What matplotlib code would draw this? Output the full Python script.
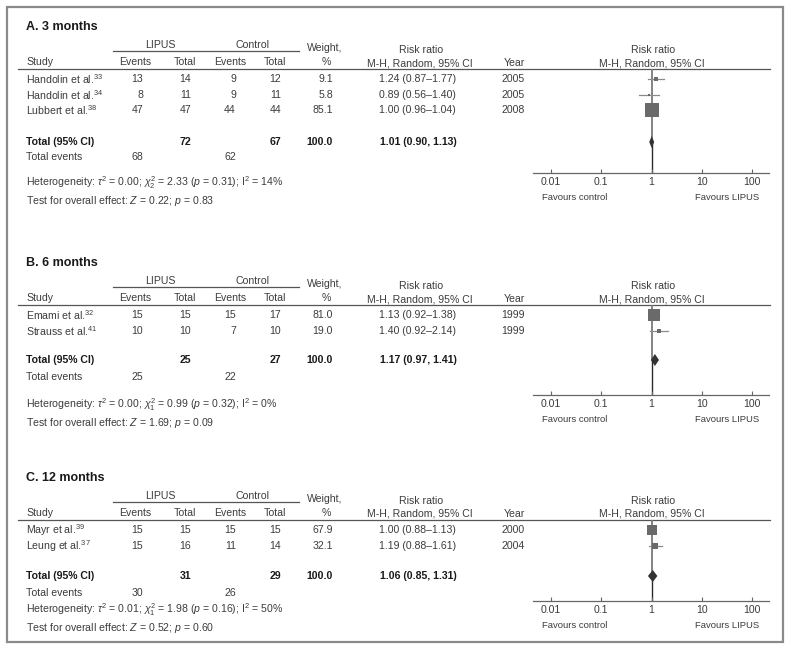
import matplotlib
matplotlib.use("Agg")
import matplotlib.pyplot as plt
from matplotlib.patches import Rectangle

plt.rcParams['font.family'] = ['Liberation Sans', 'DejaVu Sans']
plt.rcParams['mathtext.fontset'] = 'custom'
plt.rcParams['mathtext.rm'] = 'Liberation Sans'
plt.rcParams['mathtext.it'] = 'Liberation Sans:italic'
plt.rcParams['mathtext.bf'] = 'Liberation Sans:bold'

# ---- data ----
a_study = ["Handolin et al.$^{33}$", "Handolin et al.$^{34}$", "Lubbert et al.$^{38}$"]
a_lipus_ev = [13, 8, 47]
a_lipus_tot = [14, 11, 47]
a_ctrl_ev = [9, 9, 44]
a_ctrl_tot = [12, 11, 44]
a_weight = [9.1, 5.8, 85.1]
a_rr = [1.24, 0.89, 1.00]
a_lo = [0.87, 0.56, 0.96]
a_hi = [1.77, 1.40, 1.04]
a_year = [2005, 2005, 2008]
a_total = [1.01, 0.90, 1.13]
a_tot_n = [72, 67]
a_tot_ev = [68, 62]
a_het = r"Heterogeneity: $\tau^2$ = 0.00; $\chi^2_2$ = 2.33 ($p$ = 0.31); I$^2$ = 14%"
a_test = r"Test for overall effect: $Z$ = 0.22; $p$ = 0.83"

b_study = ["Emami et al.$^{32}$", "Strauss et al.$^{41}$"]
b_lipus_ev = [15, 10]
b_lipus_tot = [15, 10]
b_ctrl_ev = [15, 7]
b_ctrl_tot = [17, 10]
b_weight = [81.0, 19.0]
b_rr = [1.13, 1.40]
b_lo = [0.92, 0.92]
b_hi = [1.38, 2.14]
b_year = [1999, 1999]
b_total = [1.17, 0.97, 1.41]
b_tot_n = [25, 27]
b_tot_ev = [25, 22]
b_het = r"Heterogeneity: $\tau^2$ = 0.00; $\chi^2_1$ = 0.99 ($p$ = 0.32); I$^2$ = 0%"
b_test = r"Test for overall effect: $Z$ = 1.69; $p$ = 0.09"

c_study = ["Mayr et al.$^{39}$", "Leung et al.$^{37}$"]
c_lipus_ev = [15, 15]
c_lipus_tot = [15, 16]
c_ctrl_ev = [15, 11]
c_ctrl_tot = [15, 14]
c_weight = [67.9, 32.1]
c_rr = [1.00, 1.19]
c_lo = [0.88, 0.88]
c_hi = [1.13, 1.61]
c_year = [2000, 2004]
c_total = [1.06, 0.85, 1.31]
c_tot_n = [31, 29]
c_tot_ev = [30, 26]
c_het = r"Heterogeneity: $\tau^2$ = 0.01; $\chi^2_1$ = 1.98 ($p$ = 0.16); I$^2$ = 50%"
c_test = r"Test for overall effect: $Z$ = 0.52; $p$ = 0.60"

titles = ["A. 3 months", "B. 6 months", "C. 12 months"]
xticks = [0.01, 0.1, 1, 10, 100]
xticklabels = ["0.01", "0.1", "1", "10", "100"]

panels = [
    dict(title=titles[0], study=a_study, lev=a_lipus_ev, ltot=a_lipus_tot, cev=a_ctrl_ev,
         ctot=a_ctrl_tot, w=a_weight, rr=a_rr, lo=a_lo, hi=a_hi, year=a_year, total=a_total,
         tot_n=a_tot_n, tot_ev=a_tot_ev, het=a_het, test=a_test,
         top=27, total_y=142, totev_y=157, het_y=183, test_y=201, axis_y=173),
    dict(title=titles[1], study=b_study, lev=b_lipus_ev, ltot=b_lipus_tot, cev=b_ctrl_ev,
         ctot=b_ctrl_tot, w=b_weight, rr=b_rr, lo=b_lo, hi=b_hi, year=b_year, total=b_total,
         tot_n=b_tot_n, tot_ev=b_tot_ev, het=b_het, test=b_test,
         top=263, total_y=360, totev_y=377, het_y=405, test_y=423, axis_y=395),
    dict(title=titles[2], study=c_study, lev=c_lipus_ev, ltot=c_lipus_tot, cev=c_ctrl_ev,
         ctot=c_ctrl_tot, w=c_weight, rr=c_rr, lo=c_lo, hi=c_hi, year=c_year, total=c_total,
         tot_n=c_tot_n, tot_ev=c_tot_ev, het=c_het, test=c_test,
         top=478, total_y=576, totev_y=593, het_y=610, test_y=628, axis_y=601),
]

W, H = 791, 651
fig = plt.figure(figsize=(W / 100, H / 100), dpi=100)
ax = fig.add_axes([0, 0, 1, 1])
ax.set_xlim(0, W)
ax.set_ylim(H, 0)
ax.axis('off')

TXT = '#3c3c3c'
FS = 7.6
ax.add_patch(Rectangle((7, 7), 776, 635, fill=False, edgecolor='#8a8a8a', lw=1.6))

def t(x, y, s, ha='center', bold=False, size=FS, color=TXT):
    ax.text(x, y, s, ha=ha, va='center', fontsize=size, color=color,
            fontweight='bold' if bold else 'normal')

# column positions (pixels)
X_STUDY = 26
R_LEV, R_LTOT, R_CEV, R_CTOT, R_W = 143, 191, 236, 281, 333
C_LEV, C_LTOT, C_CEV, C_CTOT, C_W = 135, 185, 230, 275, 325
R_RR, C_RR, R_YEAR, C_FOREST = 456, 421, 525, 652
FL, FR = 533, 769
ROW_H = 15.7

for p in panels:
    top = p['top']
    t(X_STUDY, top, p['title'], ha='left', bold=True, size=9, color='#1a1a1a')
    t(160, top + 18, "LIPUS")
    t(252, top + 18, "Control")
    ax.plot([113, 299], [top + 24, top + 24], color='#555', lw=0.9)
    t(C_W, top + 21, "Weight,")
    t(C_W + 1, top + 35, "%")
    t(C_RR, top + 23, "Risk ratio")
    t(C_RR - 1, top + 36, "M-H, Random, 95% CI")
    t(R_YEAR, top + 36, "Year", ha='right')
    t(C_FOREST + 1, top + 23, "Risk ratio")
    t(C_FOREST, top + 36, "M-H, Random, 95% CI")
    t(X_STUDY, top + 35, "Study", ha='left')
    for cx, lab in zip([C_LEV, C_LTOT, C_CEV, C_CTOT], ["Events", "Total", "Events", "Total"]):
        t(cx, top + 35, lab)
    rule_y = top + 42
    ax.plot([18, 770], [rule_y, rule_y], color='#555', lw=0.9)

    rows_y = [rule_y + 10 + i * ROW_H for i in range(len(p['study']))]
    for i, y in enumerate(rows_y):
        t(X_STUDY, y, p['study'][i], ha='left')
        t(R_LEV, y, str(p['lev'][i]), ha='right')
        t(R_LTOT, y, str(p['ltot'][i]), ha='right')
        t(R_CEV, y, str(p['cev'][i]), ha='right')
        t(R_CTOT, y, str(p['ctot'][i]), ha='right')
        t(R_W, y, f"{p['w'][i]:.1f}", ha='right')
        t(R_RR, y, f"{p['rr'][i]:.2f} ({p['lo'][i]:.2f}\u2013{p['hi'][i]:.2f})", ha='right')
        t(R_YEAR, y, str(p['year'][i]), ha='right')

    ty = p['total_y']
    t(X_STUDY, ty, "Total (95% CI)", ha='left', bold=True, color='#1a1a1a')
    t(R_LTOT, ty, str(p['tot_n'][0]), ha='right', bold=True, color='#1a1a1a')
    t(R_CTOT, ty, str(p['tot_n'][1]), ha='right', bold=True, color='#1a1a1a')
    t(R_W, ty, "100.0", ha='right', bold=True, color='#1a1a1a')
    tr, tl, th = p['total']
    t(R_RR + 1, ty, f"{tr:.2f} ({tl:.2f}, {th:.2f})", ha='right', bold=True, color='#1a1a1a')
    t(X_STUDY, p['totev_y'], "Total events", ha='left')
    t(R_LEV, p['totev_y'], str(p['tot_ev'][0]), ha='right')
    t(R_CEV, p['totev_y'], str(p['tot_ev'][1]), ha='right')
    t(X_STUDY, p['het_y'], p['het'], ha='left')
    t(X_STUDY, p['test_y'], p['test'], ha='left')

    # forest plot
    ay = p['axis_y']
    fa = fig.add_axes([FL / W, 1 - ay / H, (FR - FL) / W, (ay - rule_y) / H])
    fa.set_xscale('log')
    fa.set_xlim(10 ** -2.36, 10 ** 2.34)
    fa.set_ylim(ay, rule_y)
    fa.patch.set_alpha(0)
    for s in ['top', 'left', 'right']:
        fa.spines[s].set_visible(False)
    fa.spines['bottom'].set_color('#666')
    fa.spines['bottom'].set_linewidth(0.9)
    fa.set_yticks([])
    fa.set_xticks(xticks)
    fa.set_xticklabels(xticklabels)
    fa.minorticks_off()
    fa.tick_params(axis='x', direction='in', length=3, width=0.8, color='#666',
                   labelsize=FS, labelcolor=TXT, pad=3)

    fa.plot([1, 1], [rule_y, ty], color='#7a7a7a', lw=1.3, zorder=1)
    fa.plot([1, 1], [ty, ay], color='#2a2a2a', lw=1.0, zorder=1)
    for i, y in enumerate(rows_y):
        fa.plot([p['lo'][i], p['hi'][i]], [y, y], color='#8a8a8a', lw=0.9, zorder=2)
        side = (2 + 0.13 * p['w'][i]) * 0.72
        fa.plot([p['rr'][i]], [y], marker='s', markersize=side, color='#6a6a6a',
                markeredgewidth=0, zorder=3)
    fa.fill([tl, tr, th, tr], [ty, ty - 6, ty, ty + 6], color='#333', lw=0, zorder=4)

    t(542, p['axis_y'] + 25, "Favours control", ha='left', size=6.8)
    t(759, p['axis_y'] + 25, "Favours LIPUS", ha='right', size=6.8)

fig.savefig("out.png", dpi=100)
